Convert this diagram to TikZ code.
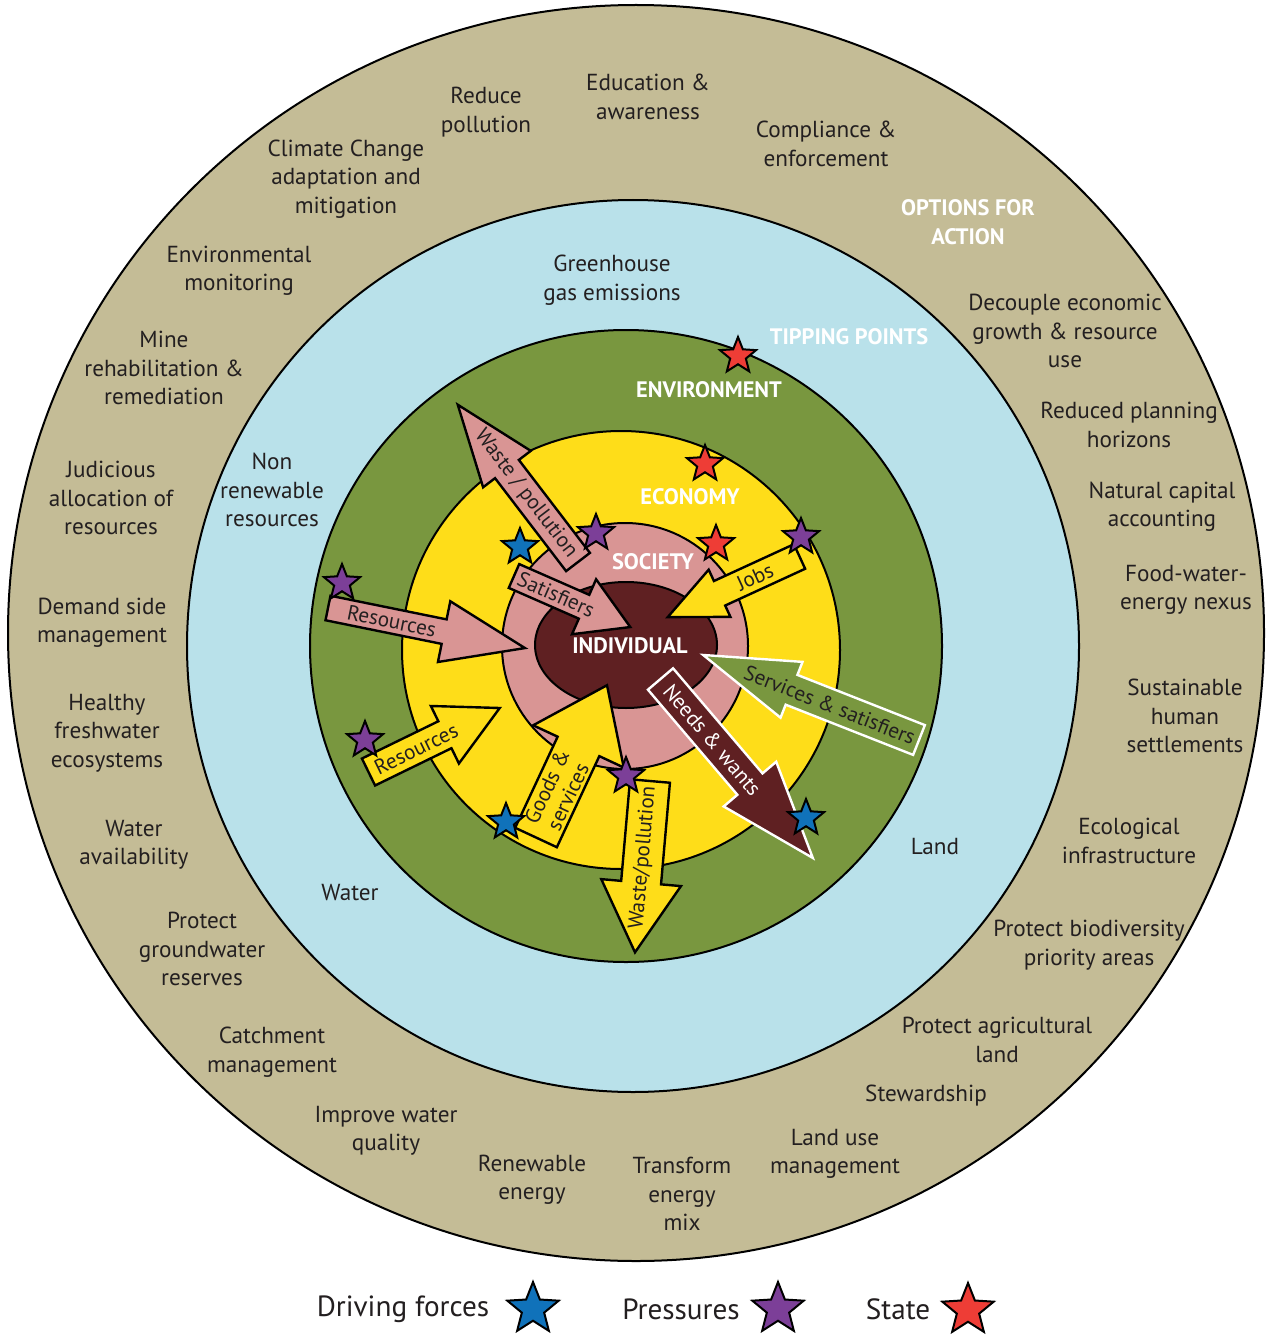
\documentclass[tikz,border=0pt]{standalone}
\usepackage{fontspec}
\setmainfont{PT Sans}
\usetikzlibrary{shapes.geometric}
\definecolor{tanc}{RGB}{196,188,150}
\definecolor{skyc}{RGB}{185,225,234}
\definecolor{grnc}{RGB}{121,151,63}
\definecolor{yelc}{RGB}{254,221,25}
\definecolor{pnkc}{RGB}{217,149,148}
\definecolor{drdc}{RGB}{95,32,34}
\definecolor{sblue}{RGB}{16,114,186}
\definecolor{spurp}{RGB}{124,63,152}
\definecolor{sred}{RGB}{238,61,54}
\definecolor{txt}{RGB}{35,31,32}
\begin{document}
\begin{tikzpicture}[x=0.5pt,y=-0.5pt,
  ring/.style={align=center, text=txt, font=\fontsize{11.6}{14.2}\selectfont, inner sep=0pt},
  caps/.style={align=center, text=white, font=\bfseries\fontsize{11.2}{14.5}\selectfont, inner sep=0pt},
  arrtext/.style={align=center, text=txt, font=\fontsize{10.6}{11.5}\selectfont, inner sep=0pt},
  blk/.style={draw=black, line width=1.2pt},
  wht/.style={draw=white, line width=1.2pt},
  circ/.style={draw=black, line width=1pt},
  starnode/.style={star, star points=5, star point ratio=2.3, draw=black, line width=1pt, minimum size=19pt, inner sep=0pt},
  legstar/.style={starnode, minimum size=27pt},
  legtext/.style={text=txt, font=\fontsize{14.6}{17}\selectfont, inner sep=0pt}]
\useasboundingbox (0,0) rectangle (1269,1337);
\fill[white] (0,0) rectangle (1269,1337);
% rings
\filldraw[circ, fill=tanc] (636,633) circle (628);
\filldraw[circ, fill=skyc] (633,646) circle (446);
\filldraw[circ, fill=grnc] (626,646) circle (316);
\filldraw[circ, fill=yelc] (621,650) circle (219);
\filldraw[circ, fill=pnkc] (625,646) circle (123);
\filldraw[circ, fill=drdc] (626,645) ellipse (91 and 63);
% arrows
\begin{scope}[shift={(578,562)}, rotate=127.4]
\draw[blk, fill=pnkc] (0,-15) -- (117,-15) -- (117,-30) -- (198,0) -- (117,30) -- (117,15) -- (0,15) -- cycle;
\node[arrtext, rotate=-52.6] (a1) at (86,0) {Waste / pollution};
\end{scope}
\begin{scope}[shift={(514,576)}, rotate=-23.7]
\draw[blk, fill=pnkc] (0,-13) -- (76.5,-13) -- (76.5,-30) -- (127,0) -- (76.5,30) -- (76.5,13) -- (0,13) -- cycle;
\node[arrtext, rotate=-23.7] (a2) at (46,0) {Satisfiers};
\end{scope}
\begin{scope}[shift={(328,608)}, rotate=-11.5]
\draw[blk, fill=pnkc] (0,-12.5) -- (118.5,-12.5) -- (118.5,-31) -- (201,0) -- (118.5,31) -- (118.5,12.5) -- (0,12.5) -- cycle;
\node[arrtext, rotate=-11.5] (a3) at (65,0) {Resources};
\end{scope}
\begin{scope}[shift={(799.5,556.5)}, rotate=204.7]
\draw[blk, fill=yelc] (0,-13.5) -- (88,-13.5) -- (88,-26) -- (145,0) -- (88,26) -- (88,13.5) -- (0,13.5) -- cycle;
\node[arrtext, rotate=24.7] (a4) at (49,0) {Jobs};
\end{scope}
\begin{scope}[shift={(919,740)}, rotate=158.5]
\draw[wht, fill=grnc] (0,-16) -- (137,-16) -- (137,-30) -- (232,0) -- (137,30) -- (137,16) -- (0,16) -- cycle;
\node[arrtext, rotate=-21.5] (a5) at (96,0) {Services \& satisfiers};
\end{scope}
\begin{scope}[shift={(660.5,679)}, rotate=-49.6]
\draw[wht, fill=drdc] (0,-16.5) -- (138,-16.5) -- (138,-34.5) -- (235,0) -- (138,34.5) -- (138,16.5) -- (0,16.5) -- cycle;
\node[arrtext, text=white, rotate=-49.6] (a6) at (80,0) {Needs \& wants};
\end{scope}
\begin{scope}[shift={(368.5,772)}, rotate=26]
\draw[blk, fill=yelc] (0,-15) -- (85,-15) -- (85,-32) -- (146,0) -- (85,32) -- (85,15) -- (0,15) -- cycle;
\node[arrtext, rotate=26] (a7) at (53,0) {Resources};
\end{scope}
\begin{scope}[shift={(536,837.5)}, rotate=65]
\draw[blk, fill=yelc] (0,-23) -- (100.5,-23) -- (100.5,-50) -- (168,0) -- (100.5,50) -- (100.5,23) -- (0,23) -- cycle;
\node[arrtext, rotate=65] (a8) at (50.6,0) {Goods \&\\services};
\end{scope}
\begin{scope}[shift={(650,781)}, rotate=-95]
\draw[blk, fill=yelc] (0,-20) -- (102,-20) -- (102,-40) -- (172,0) -- (102,40) -- (102,20) -- (0,20) -- cycle;
\node[arrtext, rotate=85] (a9) at (77,0) {Waste/pollution};
\end{scope}
% stars
\node[starnode, fill=sred] (s1) at (738,356) {};
\node[starnode, fill=sred] (s2) at (705,464) {};
\node[starnode, fill=sred] (s3) at (716,544) {};
\node[starnode, fill=spurp] (s4) at (596,533) {};
\node[starnode, fill=sblue] (s5) at (520,547) {};
\node[starnode, fill=spurp] (s6) at (801,537) {};
\node[starnode, fill=spurp] (s7) at (342,583) {};
\node[starnode, fill=spurp] (s8) at (365,740) {};
\node[starnode, fill=sblue] (s9) at (506,822) {};
\node[starnode, fill=spurp] (s10) at (626,776) {};
\node[starnode, fill=sblue] (s11) at (806,818) {};
% sphere labels
\node[caps] (lenv) at (709,390) {ENVIRONMENT};
\node[caps] (leco) at (690,497) {ECONOMY};
\node[caps] (lsoc) at (653,562) {SOCIETY};
\node[caps] (lind) at (630,646) {INDIVIDUAL};
\node[caps] (ltip) at (849,337) {TIPPING POINTS};
\node[caps] (lopt) at (968,222) {OPTIONS FOR\\ACTION};
% tipping point texts
\node[ring] (g1) at (612,280) {Greenhouse\\gas emissions};
\node[ring] (g2) at (272,490) {Non\\renewable\\resources};
\node[ring] (g3) at (350,893) {Water};
\node[ring] (g4) at (935,847) {Land};
% options
\node[ring] (o1) at (486,112) {Reduce\\pollution};
\node[ring] (o2) at (648,97) {Education \&\\awareness};
\node[ring] (o3) at (826,144) {Compliance \&\\enforcement};
\node[ring] (o4) at (346,179) {Climate Change\\adaptation and\\mitigation};
\node[ring] (o5) at (239,271) {Environmental\\monitoring};
\node[ring] (o6) at (164,368) {Mine\\rehabilitation \&\\remediation};
\node[ring] (o7) at (1065,331) {Decouple economic\\growth \& resource\\use};
\node[ring] (o8) at (1129,425) {Reduced planning\\horizons};
\node[ring] (o9) at (111,498) {Judicious\\allocation of\\resources};
\node[ring] (o10) at (1162,507) {Natural capital\\accounting};
\node[ring] (o11) at (102,623) {Demand side\\management};
\node[ring] (o12) at (1186,590) {Food-water-\\energy nexus};
\node[ring] (o13) at (107,733) {Healthy\\freshwater\\ecosystems};
\node[ring] (o14) at (1185,716) {Sustainable\\human\\settlements};
\node[ring] (o15) at (134,845) {Water\\availability};
\node[ring] (o16) at (1129,841) {Ecological\\infrastructure};
\node[ring] (o17) at (202,949) {Protect\\groundwater\\reserves};
\node[ring] (o18) at (1089,945) {Protect biodiversity\\priority areas};
\node[ring] (o19) at (272,1052) {Catchment\\management};
\node[ring] (o20) at (997,1040) {Protect agricultural\\land};
\node[ring] (o21) at (926,1096) {Stewardship};
\node[ring] (o22) at (386,1131) {Improve water\\quality};
\node[ring] (o23) at (835,1154) {Land use\\management};
\node[ring] (o24) at (532,1180) {Renewable\\energy};
\node[ring] (o25) at (682,1194) {Transform\\energy\\mix};
% legend
\node[legtext] (l1) at (403,1309) {Driving forces};
\node[legstar, fill=sblue] (ls1) at (533,1309) {};
\node[legtext] (l2) at (681,1309) {Pressures};
\node[legstar, fill=spurp] (ls2) at (778,1309) {};
\node[legtext] (l3) at (898,1309) {State};
\node[legstar, fill=sred] (ls3) at (968,1310) {};
\end{tikzpicture}
\end{document}
